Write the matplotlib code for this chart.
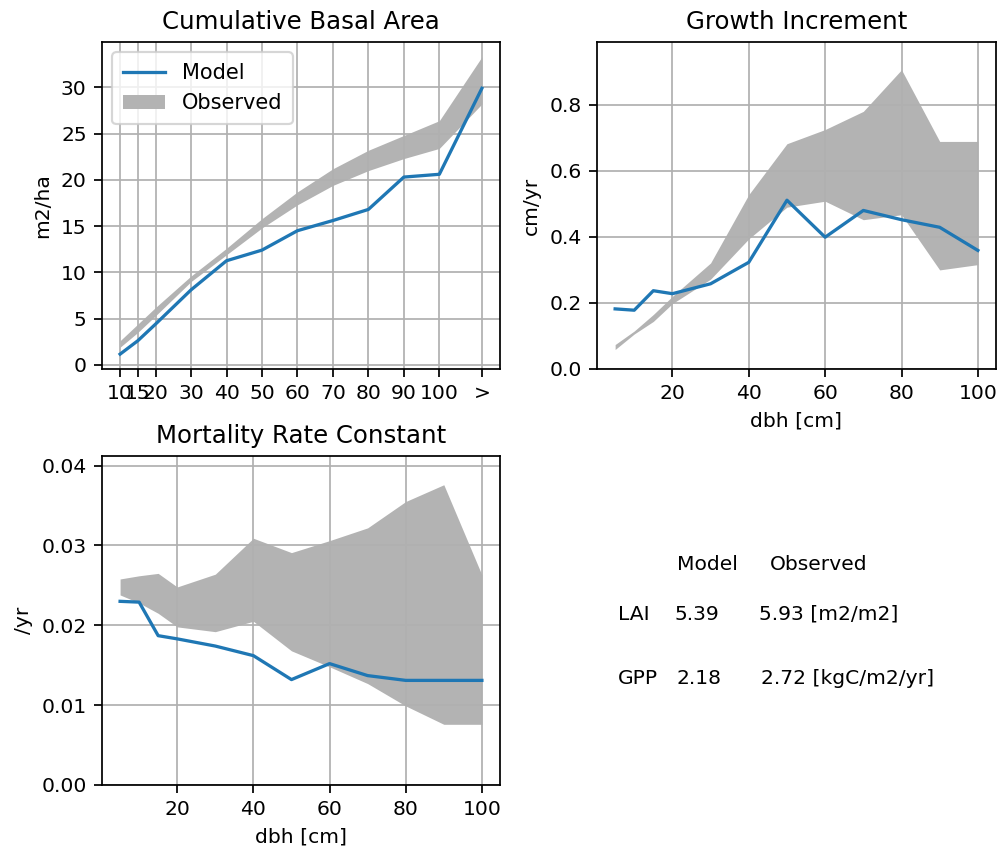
import numpy as np
import matplotlib
matplotlib.use("Agg")
import matplotlib.pyplot as plt

# cumulative basal area by size class (last class is "> 100")
ba_x = [10, 15, 20, 30, 40, 50, 60, 70, 80, 90, 100, 112]
ba_labels = ["10", "15", "20", "30", "40", "50", "60", "70", "80", "90", "100", ">"]
ba_model = [1.15, 2.6, 4.4, 8.1, 11.25, 12.4, 14.5, 15.6, 16.8, 20.3, 20.6, 29.9]
ba_obs_lo = [1.9, 3.5, 5.3, 9.0, 11.9, 14.8, 17.3, 19.4, 21.0, 22.3, 23.4, 28.2]
ba_obs_hi = [2.6, 4.4, 6.2, 9.6, 12.6, 15.8, 18.7, 21.2, 23.2, 24.8, 26.4, 33.3]

dbh = [5, 10, 15, 20, 30, 40, 50, 60, 70, 80, 90, 100]

# diameter growth increment (cm/yr)
gr_model = [0.182, 0.178, 0.237, 0.228, 0.258, 0.323, 0.511, 0.399, 0.480, 0.452, 0.429, 0.359]
gr_obs_lo = [0.059, 0.106, 0.144, 0.198, 0.272, 0.394, 0.490, 0.508, 0.452, 0.467, 0.300, 0.316]
gr_obs_hi = [0.074, 0.115, 0.165, 0.220, 0.321, 0.528, 0.682, 0.725, 0.780, 0.906, 0.689, 0.689]

# mortality rate constant (/yr)
mo_model = [0.0230, 0.0229, 0.0187, 0.0183, 0.0174, 0.0162, 0.0132, 0.0152, 0.0137, 0.0131, 0.0131, 0.0131]
mo_obs_lo = [0.0238, 0.0228, 0.0215, 0.0198, 0.0192, 0.0205, 0.0168, 0.0148, 0.0127, 0.0099, 0.0076, 0.0076]
mo_obs_hi = [0.0258, 0.0262, 0.0265, 0.0248, 0.0264, 0.0309, 0.0291, 0.0306, 0.0322, 0.0355, 0.0376, 0.0263]

lai = (5.39, 5.93)
gpp = (2.18, 2.72)

W, H = 1007, 848
DPI = 157
plt.rcParams["font.size"] = 9.3
plt.rcParams["axes.titlesize"] = 11.2
fig = plt.figure(figsize=(W / DPI, H / DPI), dpi=DPI)


def px_axes(x0, y0, x1, y1):
    return fig.add_axes([x0 / W, 1 - y1 / H, (x1 - x0) / W, (y1 - y0) / H])


band = "#b3b3b3"
line = "#1f77b4"

ax1 = px_axes(102, 42, 500, 369)
ax1.fill_between(ba_x, ba_obs_lo, ba_obs_hi, color=band, lw=0, label="Observed")
ax1.plot(ba_x, ba_model, color=line, lw=1.5, label="Model")
ax1.set_xticks(ba_x)
ax1.set_xticklabels(ba_labels)
ax1.set_yticks(np.arange(0, 31, 5))
ax1.set_ylabel("m2/ha")
ax1.set_title("Cumulative Basal Area")
ax1.grid(True, color="#b0b0b0", lw=0.8)
h, l = ax1.get_legend_handles_labels()
ax1.legend(h[::-1], l[::-1], loc="upper left", fontsize=9.6, borderpad=0.5)

ax2 = px_axes(597, 42, 996, 369)
ax2.fill_between(dbh, gr_obs_lo, gr_obs_hi, color=band, lw=0)
ax2.plot(dbh, gr_model, color=line, lw=1.5)
ax2.set_ylim(0, 0.99)
ax2.set_yticks(np.arange(0, 0.81, 0.2))
ax2.set_xticks([20, 40, 60, 80, 100])
ax2.set_xlabel("dbh [cm]")
ax2.set_ylabel("cm/yr")
ax2.set_title("Growth Increment")
ax2.grid(True, color="#b0b0b0", lw=0.8)

ax3 = px_axes(102, 456, 500, 785)
ax3.fill_between(dbh, mo_obs_lo, mo_obs_hi, color=band, lw=0)
ax3.plot(dbh, mo_model, color=line, lw=1.5)
ax3.set_ylim(0, 0.0412)
ax3.set_yticks(np.arange(0, 0.041, 0.01))
ax3.set_xticks([20, 40, 60, 80, 100])
ax3.set_xlabel("dbh [cm]")
ax3.set_ylabel("/yr")
ax3.set_title("Mortality Rate Constant")
ax3.grid(True, color="#b0b0b0", lw=0.8)

# summary table of stand-level quantities
fs = 9.3
fig.text(677 / W, 1 - 564 / H, "Model", fontsize=fs, va="center")
fig.text(770 / W, 1 - 564 / H, "Observed", fontsize=fs, va="center")
fig.text(618 / W, 1 - 614 / H, "LAI", fontsize=fs, va="center")
fig.text(675 / W, 1 - 614 / H, f"{lai[0]:.2f}", fontsize=fs, va="center")
fig.text(759 / W, 1 - 614 / H, f"{lai[1]:.2f} [m2/m2]", fontsize=fs, va="center")
fig.text(618 / W, 1 - 679 / H, "GPP", fontsize=fs, va="center")
fig.text(677 / W, 1 - 679 / H, f"{gpp[0]:.2f}", fontsize=fs, va="center")
fig.text(761 / W, 1 - 679 / H, f"{gpp[1]:.2f} [kgC/m2/yr]", fontsize=fs, va="center")

fig.savefig("out.png", dpi=DPI)
